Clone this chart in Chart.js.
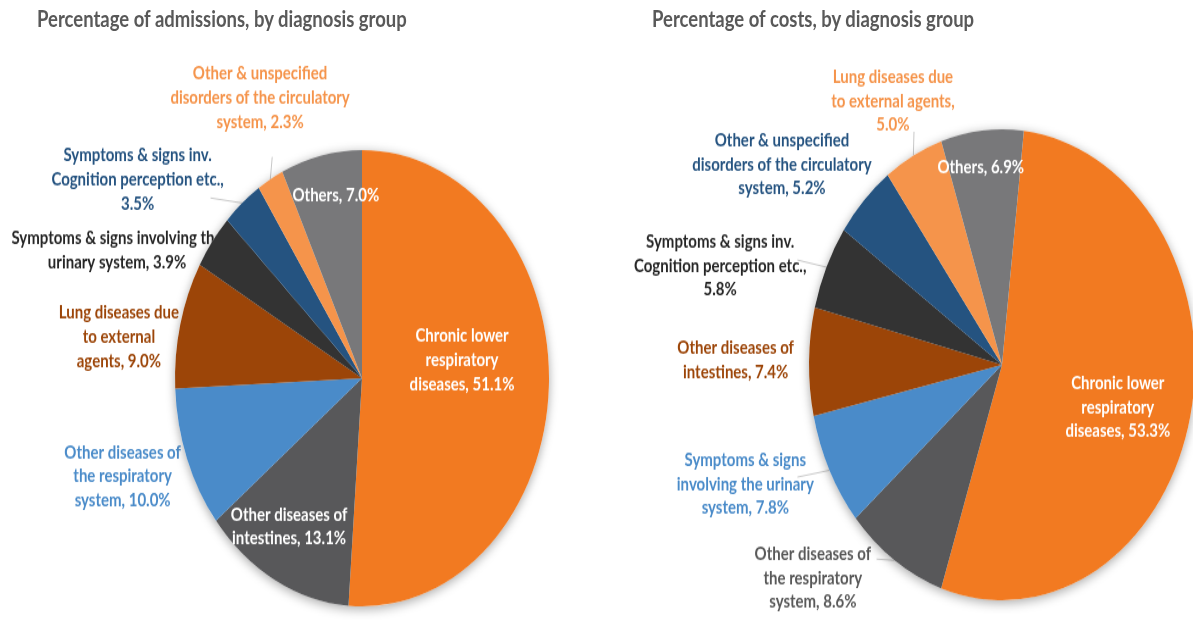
<!DOCTYPE html>
<html>
<head>
<meta charset="utf-8">
<script src="https://cdn.jsdelivr.net/npm/chart.js@4"></script>
<style>
  html, body { margin: 0; padding: 0; background: #fff; overflow: hidden; }
  body { width: 1193px; height: 633px; position: relative; }
  /* the whole picture is stretched vertically, pies look like ellipses */
  #wrap {
    position: absolute; left: 0; top: 0; width: 1193px; height: 519px;
    transform: scaleY(1.22); transform-origin: 0 0;
  }
  .title {
    position: absolute; top: 4px; height: 22px; line-height: 22px;
    font: bold 18.5px Lato, sans-serif; color: #595959; white-space: nowrap;
  }
  .box { position: absolute; top: 0; height: 519px; }
</style>
</head>
<body>
<div id="wrap">
  <div class="title" style="left:37px">Percentage of admissions, by diagnosis group</div>
  <div class="title" style="left:652px">Percentage of costs, by diagnosis group</div>
  <div class="box" style="left:0;width:600px"><canvas id="admChart" width="600" height="519"></canvas></div>
  <div class="box" style="left:600px;width:620px"><canvas id="costChart" width="620" height="519"></canvas></div>
</div>

<script>
/* =======================
   DATA
======================= */
const admCategories = [
  "Chronic lower respiratory diseases",
  "Other diseases of intestines",
  "Other diseases of the respiratory system",
  "Lung diseases due to external agents",
  "Symptoms & signs involving the urinary system",
  "Symptoms & signs inv. Cognition perception etc.",
  "Other & unspecified disorders of the circulatory system",
  "Others"
];
const admValues = [51.1, 13.1, 10.0, 9.0, 3.9, 3.5, 2.3, 7.0];

const costCategories = [
  "Chronic lower respiratory diseases",
  "Other diseases of the respiratory system",
  "Symptoms & signs involving the urinary system",
  "Other diseases of intestines",
  "Symptoms & signs inv. Cognition perception etc.",
  "Other & unspecified disorders of the circulatory system",
  "Lung diseases due to external agents",
  "Others"
];
const costValues = [53.3, 8.6, 7.8, 7.4, 5.8, 5.2, 5.0, 6.9];

// slice colours go by position, not by category
const sliceColors = ["#f27a21", "#58585a", "#4a8bc9", "#9c4508", "#333333", "#255380", "#f5944b", "#78787a"];

/* =======================
   LABEL LAYOUT
   pos = label centre relative to pie centre (in radii)
   words = words per line, lead = leader line end (in radii)
======================= */
const admLayout = [
  { pos: [0.535, -0.08], words: [2, 1, 2], color: "#ffffff" },
  { pos: [-0.39, 0.65], words: [3, 2], color: "#ffffff" },
  { pos: [-1.28, 0.43], words: [3, 2, 2], color: "#4a8bc9" },
  { pos: [-1.30, -0.18], words: [3, 2, 2], color: "#9c4508" },
  { pos: [-1.31, -0.56], words: [5, 3], color: "#262626" },
  { pos: [-1.20, -0.87], words: [4, 3, 1], color: "#255380", lead: [-0.81, -0.79] },
  { pos: [-0.545, -1.23], words: [3, 4, 2], color: "#f5944b", lead: [-0.48, -0.97] },
  { pos: [-0.14, -0.80], words: [2], color: "#ffffff" }
];
const costLayout = [
  { pos: [0.60, 0.18], words: [2, 1, 2], color: "#ffffff" },
  { pos: [-0.98, 0.905], words: [3, 2, 2], color: "#595959", lead: [-0.65, 0.825] },
  { pos: [-1.33, 0.506], words: [3, 3, 2], color: "#4a8bc9", lead: [-1.06, 0.477] },
  { pos: [-1.38, -0.02], words: [3, 2], color: "#9c4508" },
  { pos: [-1.46, -0.42], words: [4, 3, 1], color: "#262626", lead: [-1.06, -0.445] },
  { pos: [-1.14, -0.85], words: [3, 4, 2], color: "#255380" },
  { pos: [-0.565, -1.12], words: [3, 3, 1], color: "#f5944b", lead: [-0.456, -0.99] },
  { pos: [-0.11, -0.84], words: [2], color: "#ffffff" }
];

Chart.defaults.font.family = "Lato, sans-serif";

/* =======================
   LABEL PLUGIN
======================= */
function drawLabels(chart, insideOnly) {
  const opts = chart.options.plugins.sliceLabels;
  const meta = chart.getDatasetMeta(0);
  const ctx = chart.ctx;
  const labels = chart.data.labels;
  const values = chart.data.datasets[0].data;

  ctx.save();
  ctx.font = "bold 15px Lato, sans-serif";
  ctx.textAlign = "center";
  ctx.textBaseline = "middle";

  meta.data.forEach((arc, i) => {
    const lay = opts.layout[i];
    const inside = lay.color === "#ffffff";
    if (inside !== insideOnly) return;

    const R = arc.outerRadius;
    const cx = arc.x + lay.pos[0] * R;
    const cy = arc.y + lay.pos[1] * R;

    // leader line from slice edge
    if (lay.lead) {
      const mid = (arc.startAngle + arc.endAngle) / 2;
      ctx.strokeStyle = "#c8c8c8";
      ctx.lineWidth = 1;
      ctx.beginPath();
      ctx.moveTo(arc.x + Math.cos(mid) * R, arc.y + Math.sin(mid) * R);
      ctx.lineTo(arc.x + lay.lead[0] * R, arc.y + lay.lead[1] * R);
      ctx.stroke();
    }

    const words = (labels[i] + ", " + values[i].toFixed(1) + "%").split(" ");
    const lines = [];
    let k = 0;
    lay.words.forEach(n => {
      lines.push(words.slice(k, k + n).join(" "));
      k += n;
    });

    const lh = 19.7;
    ctx.fillStyle = lay.color;
    lines.forEach((t, j) => {
      ctx.fillText(t, cx, cy + (j - (lines.length - 1) / 2) * lh);
    });
  });
  ctx.restore();
}

const labelPlugin = {
  id: "sliceLabels",
  beforeDatasetsDraw(chart) {
    // outside labels sit behind the pie
    drawLabels(chart, false);

    // soft shadow round the pie
    const arc = chart.getDatasetMeta(0).data[0];
    const ctx = chart.ctx;
    ctx.save();
    ctx.shadowColor = "rgba(0,0,0,0.35)";
    ctx.shadowBlur = 10;
    ctx.shadowOffsetY = 2;
    ctx.fillStyle = "#ffffff";
    ctx.beginPath();
    ctx.arc(arc.x, arc.y, arc.outerRadius, 0, Math.PI * 2);
    ctx.fill();
    ctx.restore();
  },
  afterDatasetsDraw(chart) {
    drawLabels(chart, true);
  }
};

/* =======================
   CHARTS
======================= */
function createPie(id, labels, values, layout, rotation, padding) {
  return new Chart(document.getElementById(id), {
    type: "pie",
    data: {
      labels: labels,
      datasets: [{
        data: values,
        backgroundColor: sliceColors,
        borderWidth: 0,
        hoverOffset: 0
      }]
    },
    options: {
      responsive: false,
      animation: false,
      events: [],
      rotation: rotation,
      layout: { padding: padding },
      plugins: {
        legend: { display: false },
        tooltip: { enabled: false },
        sliceLabels: { layout: layout }
      }
    },
    plugins: [labelPlugin]
  });
}

createPie("admChart", admCategories, admValues, admLayout, 0,
  { left: 175, right: 51, top: 123, bottom: 22 });

createPie("costChart", costCategories, costValues, costLayout, 6.5,
  { left: 209, right: 25, top: 106, bottom: 27 });
</script>
</body>
</html>
